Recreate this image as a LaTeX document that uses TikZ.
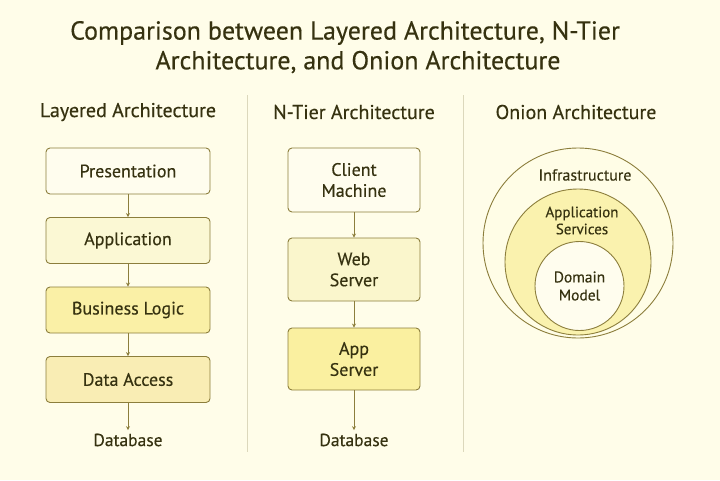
\documentclass[tikz,border=0pt]{standalone}
\usepackage{fontspec}
\setmainfont[FakeBold=0.35]{PT Sans}
\usetikzlibrary{arrows.meta}
\definecolor{bg}{HTML}{FFFDE9}
\definecolor{ink}{HTML}{363210}
\definecolor{edge}{HTML}{8C7E3C}
\definecolor{divc}{HTML}{DCD8BC}
\definecolor{fA}{HTML}{FFFDEE}
\definecolor{fB}{HTML}{FBF8D4}
\definecolor{fC}{HTML}{FAF0A6}
\definecolor{fD}{HTML}{F9EDB4}
\definecolor{fW}{HTML}{FAF6CC}
\definecolor{fApp}{HTML}{FAF0A0}
\definecolor{oOut}{HTML}{FFFDE6}
\definecolor{oMid}{HTML}{FAF2AE}
\definecolor{oIn}{HTML}{FFFDEE}
\tikzset{
  layerbox/.style={draw=edge, line width=0.9pt, rounded corners=4pt, minimum width=164pt, minimum height=46pt, text=ink, font=\fontsize{18}{20}\selectfont, align=center},
  tierbox/.style={draw=edge, line width=0.9pt, rounded corners=4pt, minimum width=132pt, text=ink, font=\fontsize{18}{21}\selectfont, align=center},
  flow/.style={draw=edge, line width=0.8pt, -{Stealth[length=4pt,width=4pt]}},
  colhead/.style={text=ink, font=\fontsize{20}{22}\selectfont},
  dbtext/.style={text=ink, font=\fontsize{17.5}{20}\selectfont},
  divider/.style={draw=divc, line width=0.8pt},
  ring/.style={draw=edge, line width=0.9pt, circle, inner sep=0pt},
  ringtext/.style={text=ink, font=\fontsize{15}{17}\selectfont, align=center},
  titletext/.style={text=ink, font=\fontsize{26}{29}\selectfont}
}
\begin{document}
\begin{tikzpicture}[x=1pt,y=-1pt]
\fill[bg] (0,0) rectangle (720,480);
\useasboundingbox (0,0) rectangle (720,480);
% title
\node[titletext] (title1) at (345,33) {Comparison between Layered Architecture, N-Tier};
\node[titletext] (title2) at (358,62) {Architecture, and Onion Architecture};
% dividers
\coordinate (d1a) at (247,95); \coordinate (d1b) at (247,452);
\coordinate (d2a) at (463,95); \coordinate (d2b) at (463,452);
\draw[divider] (d1a) -- (d1b);
\draw[divider] (d2a) -- (d2b);
% column heads
\node[colhead] (h1) at (128,112) {Layered Architecture};
\node[colhead] (h2) at (354,112) {N-Tier Architecture};
\node[colhead] (h3) at (576,112) {Onion Architecture};
% layered
\node[layerbox, fill=fA] (pres) at (128,171) {Presentation};
\node[layerbox, fill=fB] (appl) at (128,240.5) {Application};
\node[layerbox, fill=fC] (biz) at (128,310) {Business Logic};
\node[layerbox, fill=fD] (dacc) at (128,379.5) {Data Access};
\node[dbtext] (db1) at (128,440) {Database};
\draw[flow] (pres) -- (appl);
\draw[flow] (appl) -- (biz);
\draw[flow] (biz) -- (dacc);
\draw[flow] (dacc) -- (db1);
% n-tier
\node[tierbox, fill=fA, minimum height=64pt] (client) at (354,180) {Client\\Machine};
\node[tierbox, fill=fW, minimum height=63pt] (web) at (354,269.5) {Web\\Server};
\node[tierbox, fill=fApp, minimum height=62pt] (apps) at (354,359) {App\\Server};
\node[dbtext] (db2) at (354,440) {Database};
\draw[flow] (client) -- (web);
\draw[flow] (web) -- (apps);
\draw[flow] (apps) -- (db2);
% onion
\node[ring, fill=oOut, minimum size=190pt] (outer) at (578,243) {};
\node[ring, fill=oMid, minimum size=146pt] (mid) at (578,262) {};
\node[ring, fill=oIn, minimum size=89pt] (inner) at (579.5,286) {};
\node[ringtext, font=\fontsize{16}{18}\selectfont] (t1) at (585,175) {Infrastructure};
\node[ringtext] (t2) at (582,220.5) {Application\\Services};
\node[ringtext, font=\fontsize{15.5}{18}\selectfont] (t3) at (579.5,286) {Domain\\Model};
\end{tikzpicture}
\end{document}
